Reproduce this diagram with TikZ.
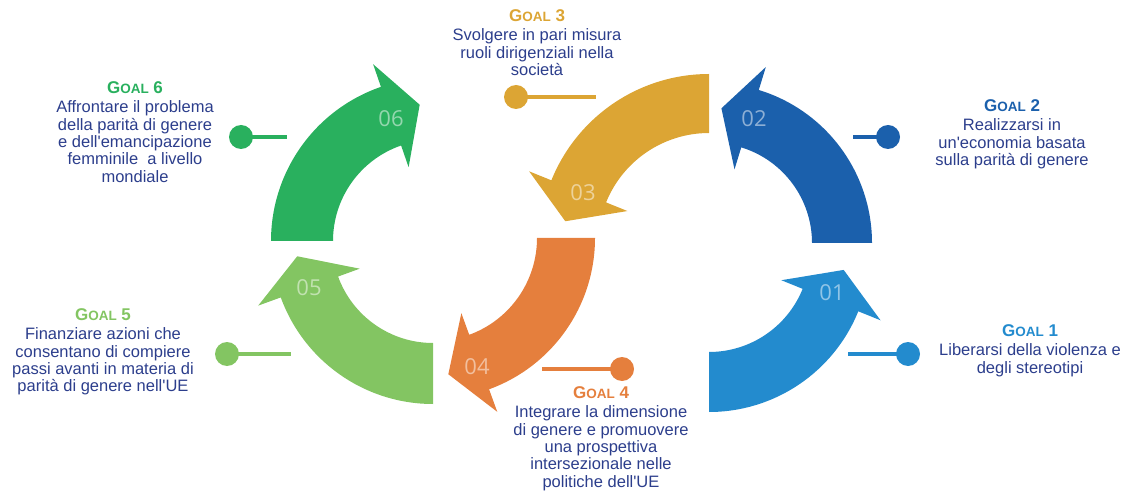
\documentclass[tikz,border=0pt]{standalone}
\usepackage{fontspec}
\setmainfont{Liberation Sans}
\newfontfamily\numfont{Open Sans}
\definecolor{c1}{RGB}{35,139,206}
\definecolor{c2}{RGB}{27,96,172}
\definecolor{c3}{RGB}{220,165,52}
\definecolor{c4}{RGB}{229,127,61}
\definecolor{c5}{RGB}{131,197,98}
\definecolor{c6}{RGB}{41,176,94}
\definecolor{navy}{RGB}{44,62,140}
\tikzset{
  goaltext/.style={align=center,anchor=north,inner sep=0pt,text=navy,
    font=\fontsize{16.5}{17.3}\selectfont},
  goaldot/.style={circle,fill=#1,inner sep=0pt,minimum size=24pt},
  goalstem/.style={draw=#1,line width=4.3pt},
  goalnum/.style={text=#1!50!white,inner sep=0pt,font=\numfont\fontsize{22}{22}\selectfont}
}
% centre, start, band end, tip, inner r, outer R, colour
\newcommand\goalarrow[7]{%
  \fill[#7,shift={#1}] (#2:#6) arc[start angle=#2,end angle=#3,radius=#6]
    -- (#3:{#6+24}) -- (#4:{(#5+#6)/2+5}) -- (#3:{#5-23}) -- (#3:#5)
    arc[start angle=#3,end angle=#2,radius=#5] -- cycle;}
\newcommand\goaltitle[2]{{\color{#1}\bfseries\fontsize{17}{17}\selectfont
  G\fontsize{13.5}{17}\selectfont OAL\fontsize{17}{17}\selectfont\ #2}}
\newcommand\apo{\textquotesingle}
\begin{document}
\begin{tikzpicture}[x=1pt,y=1pt]
  \useasboundingbox (0,0) rectangle (1126,493);
  % arrows
  \goalarrow{(709,242)}{-90}{-22}{-8}{101}{161}{c1}
  \goalarrow{(712,250)}{0}{73}{86}{100}{160}{c2}
  \goalarrow{(709,249)}{90}{158}{171}{111}{170}{c3}
  \goalarrow{(434,255)}{0}{-70}{-84}{103}{161}{c4}
  \goalarrow{(433,251)}{270}{200}{186}{101}{162}{c5}
  \goalarrow{(434,252)}{180}{109}{96}{101}{163}{c6}
  \node[goalnum=c1] (n1) at (832,200) {01};
  \node[goalnum=c2] (n2) at (754,374) {02};
  \node[goalnum=c3] (n3) at (583,300) {03};
  \node[goalnum=c4] (n4) at (477,126) {04};
  \node[goalnum=c5] (n5) at (309,205) {05};
  \node[goalnum=c6] (n6) at (391,374) {06};
  % labels
  \node[goaltext] (g1) at (1030,168.2) {\goaltitle{c1}{1}\\[1.7pt]
    Liberarsi della violenza e\\ degli stereotipi};
  \node[goaltext] (g2) at (1012,393.2) {\goaltitle{c2}{2}\\[1.7pt]
    Realizzarsi in\\ un\apo economia basata\\ sulla parità di genere};
  \node[goaltext] (g3) at (537,483.2) {\goaltitle{c3}{3}\\[1.7pt]
    Svolgere in pari misura\\ ruoli dirigenziali nella\\ società};
  \node[goaltext] (g4) at (601,106.2) {\goaltitle{c4}{4}\\[1.7pt]
    Integrare la dimensione\\ di genere e promuovere\\ una prospettiva\\
    intersezionale nelle\\ politiche dell\apo UE};
  \node[goaltext] (g5) at (103,184.2) {\goaltitle{c5}{5}\\[1.7pt]
    Finanziare azioni che\\ consentano di compiere\\ passi avanti in materia di\\
    parità di genere nell\apo UE};
  \node[goaltext] (g6) at (135,411.2) {\goaltitle{c6}{6}\\[1.7pt]
    Affrontare il problema\\ della parità di genere\\ e dell\apo emancipazione\\
    femminile\ \ a livello\\ mondiale};
  % pins
  \node[goaldot=c1] (d1) at (908,139) {};
  \node[goaldot=c2] (d2) at (888,356) {};
  \node[goaldot=c3] (d3) at (516,396) {};
  \node[goaldot=c4] (d4) at (622,124) {};
  \node[goaldot=c5] (d5) at (227,139) {};
  \node[goaldot=c6] (d6) at (241,356) {};
  \coordinate (e1) at (848,139);
  \coordinate (e2) at (853,356);
  \coordinate (e3) at (596,396);
  \coordinate (e4) at (542,124);
  \coordinate (e5) at (291,139);
  \coordinate (e6) at (287,356);
  \draw[goalstem=c1] (d1.center) -- (e1);
  \draw[goalstem=c2] (d2.center) -- (e2);
  \draw[goalstem=c3] (d3.center) -- (e3);
  \draw[goalstem=c4] (d4.center) -- (e4);
  \draw[goalstem=c5] (d5.center) -- (e5);
  \draw[goalstem=c6] (d6.center) -- (e6);
\end{tikzpicture}
\end{document}
